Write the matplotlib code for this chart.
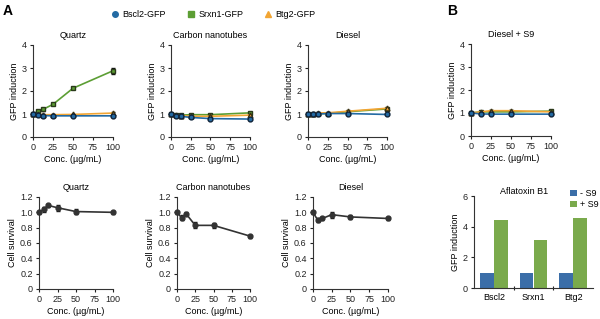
import numpy as np
import matplotlib
matplotlib.use('Agg')
import matplotlib.pyplot as plt

plt.rcParams['font.family'] = ['Liberation Sans', 'DejaVu Sans']
plt.rcParams['font.size'] = 6.5

# concentrations (ug/mL)
conc = [0, 6.25, 12.5, 25, 50, 100]
conc_s9 = [0, 12.5, 25, 50, 100]

# GFP induction, reporter lines
quartz_bscl2 = [1.0, 0.97, 0.93, 0.92, 0.92, 0.92]
quartz_srxn1 = [1.0, 1.12, 1.2, 1.42, 2.12, 2.88]
quartz_btg2 = [1.0, 1.0, 0.97, 0.97, 0.98, 1.04]
quartz_srxn1_err = [0.03, 0.05, 0.05, 0.05, 0.05, 0.12]

cnt_bscl2 = [1.0, 0.92, 0.9, 0.85, 0.8, 0.78]
cnt_srxn1 = [1.0, 0.96, 0.95, 0.97, 0.97, 1.05]
cnt_btg2 = [1.0, 0.95, 0.93, 0.9, 0.9, 0.95]

diesel_bscl2 = [1.0, 1.0, 1.0, 1.02, 1.02, 0.98]
diesel_srxn1 = [1.0, 1.0, 1.02, 1.02, 1.1, 1.22]
diesel_btg2 = [1.0, 1.02, 1.05, 1.05, 1.12, 1.25]

s9_bscl2 = [1.0, 0.96, 0.95, 0.95, 0.95]
s9_srxn1 = [1.0, 1.05, 1.05, 1.05, 1.08]
s9_btg2 = [1.0, 1.05, 1.1, 1.1, 1.05]

# cell survival
surv_quartz = [1.0, 1.04, 1.09, 1.06, 1.01, 1.0]
surv_cnt = [1.0, 0.93, 0.98, 0.83, 0.83, 0.69]
surv_diesel = [1.0, 0.9, 0.92, 0.97, 0.94, 0.92]
surv_err = [0.02, 0.03, 0.02, 0.04, 0.03, 0.02]

# aflatoxin B1 bars
genes = ['Bscl2', 'Srxn1', 'Btg2']
minus_s9 = [1.0, 1.0, 1.0]
plus_s9 = [4.45, 3.1, 4.55]

blue = '#236aa3'
green = '#5c9e34'
orange = '#f2a533'
fs = 6.5

fig = plt.figure(figsize=(6, 3.19), dpi=100)


def px(l, r, top, bot):
    return [l / 600, 1 - bot / 319, (r - l) / 600, (bot - top) / 319]


def style(ax):
    for s in ['top', 'right']:
        ax.spines[s].set_visible(False)
    for s in ['left', 'bottom']:
        ax.spines[s].set_color('#333333')
        ax.spines[s].set_linewidth(0.8)
    ax.tick_params(length=2.5, width=0.8, pad=2, labelsize=fs, colors='#222222')


def gfp_panel(rect, title, x, b, s, g, serr=None):
    ax = fig.add_axes(rect)
    style(ax)
    err = [0.03] * len(x)
    ax.errorbar(x, s, yerr=serr if serr else err, color=green, marker='s', ms=3.5,
                mec='#2a3a1a', lw=1.2, ecolor='#111111', elinewidth=0.8, capsize=1.5,
                clip_on=False, zorder=3, label='Srxn1-GFP')
    ax.errorbar(x, g, yerr=err, color=orange, marker='^', ms=3.5,
                mec='#3a3010', lw=1.2, ecolor='#111111', elinewidth=0.8, capsize=1.5,
                clip_on=False, zorder=3, label='Btg2-GFP')
    ax.errorbar(x, b, yerr=err, color=blue, marker='o', ms=3.5,
                mec='#10243a', lw=1.2, ecolor='#111111', elinewidth=0.8, capsize=1.5,
                clip_on=False, zorder=4, label='Bscl2-GFP')
    ax.set_xlim(0, 100)
    ax.set_ylim(0, 4)
    ax.set_xticks([0, 25, 50, 75, 100])
    ax.set_yticks([0, 1, 2, 3, 4])
    ax.set_title(title, fontsize=fs, pad=5)
    ax.set_ylabel('GFP induction', fontsize=fs, labelpad=2)
    ax.set_xlabel('Conc. (\u00b5g/mL)', fontsize=fs, labelpad=2)
    return ax


def surv_panel(rect, title, y):
    ax = fig.add_axes(rect)
    style(ax)
    ax.errorbar(conc, y, yerr=surv_err, color='#333333', marker='o', ms=3.5,
                lw=1.2, ecolor='#111111', elinewidth=0.8, capsize=1.5,
                clip_on=False, zorder=3)
    ax.set_xlim(0, 100)
    ax.set_ylim(0, 1.2)
    ax.set_xticks([0, 25, 50, 75, 100])
    ax.set_yticks([0, 0.2, 0.4, 0.6, 0.8, 1.0, 1.2])
    ax.set_yticklabels(['0', '0.2', '0.4', '0.6', '0.8', '1.0', '1.2'])
    ax.set_title(title, fontsize=fs, pad=5)
    ax.set_ylabel('Cell survival', fontsize=fs, labelpad=2)
    ax.set_xlabel('Conc. (\u00b5g/mL)', fontsize=fs, labelpad=2)
    return ax


ax1 = gfp_panel(px(33, 113, 45, 137), 'Quartz', conc,
                quartz_bscl2, quartz_srxn1, quartz_btg2, quartz_srxn1_err)
gfp_panel(px(171, 250, 45, 137), 'Carbon nanotubes', conc, cnt_bscl2, cnt_srxn1, cnt_btg2)
gfp_panel(px(308, 387, 45, 137), 'Diesel', conc, diesel_bscl2, diesel_srxn1, diesel_btg2)
gfp_panel(px(471, 551, 44, 136), 'Diesel + S9', conc_s9, s9_bscl2, s9_srxn1, s9_btg2)

surv_panel(px(39, 113, 197, 289), 'Quartz', surv_quartz)
surv_panel(px(177, 250, 197, 289), 'Carbon nanotubes', surv_cnt)
surv_panel(px(313, 388, 197, 289), 'Diesel', surv_diesel)

# legend for the reporter lines
leg_h = [plt.Line2D([], [], ls='none', marker=m, color=c, ms=4)
         for m, c in [('o', blue), ('s', green), ('^', orange)]]
fig.legend(leg_h, ['Bscl2-GFP', 'Srxn1-GFP', 'Btg2-GFP'], loc='center',
           bbox_to_anchor=(0.355, 0.955), ncol=3, frameon=False, fontsize=fs,
           handletextpad=0.3, columnspacing=2.3, handlelength=1)

# aflatoxin bar panel
axb = fig.add_axes(px(474, 593, 196, 288))
style(axb)
x = np.arange(len(genes))
axb.bar(x - 0.175, minus_s9, width=0.34, color='#3b6ea8', label='- S9')
axb.bar(x + 0.175, plus_s9, width=0.34, color='#7aaa4c', label='+ S9')
axb.set_xlim(-0.5, 2.5)
axb.set_ylim(0, 6)
axb.set_yticks([0, 2, 4, 6])
axb.set_xticks([0.5, 1.5])
axb.set_xticklabels([])
axb.tick_params(axis='x', length=3, direction='inout')
for i, gname in enumerate(genes):
    axb.text(i, -0.35, gname, ha='center', va='top', fontsize=fs)
axb.set_ylabel('GFP induction', fontsize=fs, labelpad=2)
axb.text(0.42, 1.0, 'Aflatoxin B1', transform=axb.transAxes, ha='center', va='bottom', fontsize=fs)
axb.legend(loc='upper left', bbox_to_anchor=(0.74, 1.16), frameon=False, fontsize=fs,
           handlelength=0.7, handleheight=0.7, handletextpad=0.4, labelspacing=0.2)

fig.text(0.005, 0.965, 'A', fontsize=10, fontweight='bold', va='center')
fig.text(0.745, 0.965, 'B', fontsize=10, fontweight='bold', va='center')

fig.savefig('out.png', dpi=100)
